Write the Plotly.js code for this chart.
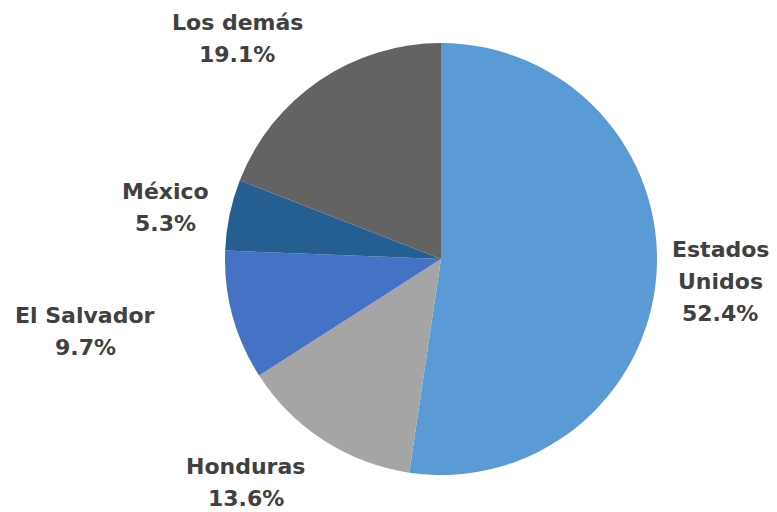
<!DOCTYPE html>
<html>
<head>
<meta charset="utf-8">
<script src="https://cdn.plot.ly/plotly-3.0.1.min.js"></script>
<style>html,body{margin:0;padding:0;background:#fff;}#chart{width:777px;height:512px;}</style>
</head>
<body>
<div id="chart"></div>
<script>
const labels = ["Estados Unidos", "Honduras", "El Salvador", "México", "Los demás"];
const values = [52.4, 13.6, 9.7, 5.3, 19.1];
const labelLines = [["Estados", "Unidos"], ["Honduras"], ["El Salvador"], ["México"], ["Los demás"]];
const colors = ["#5B9BD5", "#A5A5A5", "#4472C4", "#255E91", "#636363"];

const W = 777, H = 512;
// label anchor centres (pixels) for each category, first line y
const labelPos = [[720, 249], [246, 466], [85, 315], [165, 191], [237, 22]];
const lineGap = 32;

const annotations = [];
labels.forEach((lab, i) => {
  const lines = labelLines[i].concat([values[i].toFixed(1) + "%"]);
  lines.forEach((t, j) => {
    annotations.push({
      text: "<b>" + t + "</b>",
      x: labelPos[i][0] / W,
      y: 1 - (labelPos[i][1] + j * lineGap) / H,
      xref: "paper", yref: "paper",
      xanchor: "center", yanchor: "middle",
      showarrow: false,
      borderpad: 0,
      font: {family: "DejaVu Sans, sans-serif", size: 22, color: "#404040"}
    });
  });
});

const trace = {
  type: "pie",
  labels: labels,
  values: values,
  sort: false,
  direction: "clockwise",
  rotation: 0,
  textinfo: "none",
  hoverinfo: "label+percent",
  marker: {colors: colors, line: {color: "#ffffff", width: 0}},
  domain: {x: [(441 - 216) / W, (441 + 216) / W], y: [(253 - 216) / H, (253 + 216) / H]}
};

const layout = {
  width: W, height: H,
  margin: {l: 0, r: 0, t: 0, b: 0},
  showlegend: false,
  paper_bgcolor: "#ffffff",
  annotations: annotations
};

Plotly.newPlot("chart", [trace], layout, {displayModeBar: false, staticPlot: true});
</script>
</body>
</html>
